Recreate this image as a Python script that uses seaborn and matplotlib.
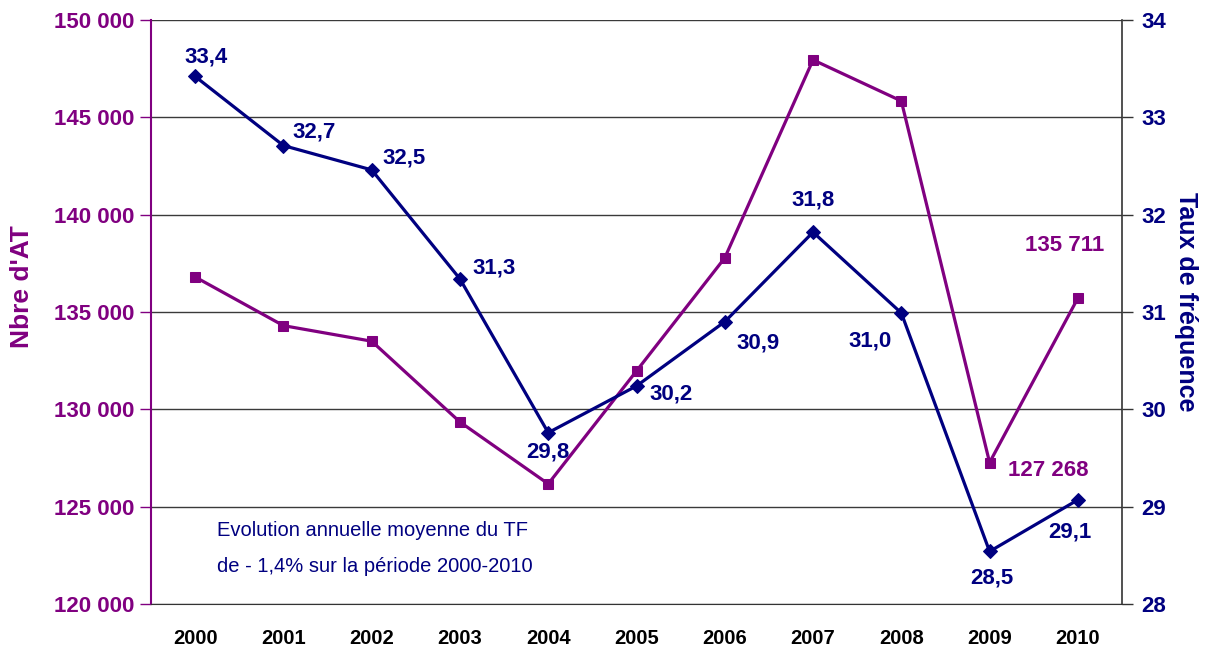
import matplotlib
matplotlib.use("Agg")
import matplotlib.pyplot as plt
import seaborn as sns
import pandas as pd
import numpy as np
from matplotlib.ticker import FixedLocator, FuncFormatter

# ---- data ----
years = ["2000", "2001", "2002", "2003", "2004", "2005", "2006", "2007", "2008", "2009", "2010"]
nb_at = [136800, 134300, 133500, 129350, 126170, 131970, 137780, 147950, 145840, 127268, 135711]
taux = [33.42, 32.71, 32.46, 31.34, 29.76, 30.24, 30.9, 31.82, 30.99, 28.54, 29.07]
left_ticks = [120000, 125000, 130000, 135000, 140000, 145000, 150000]
right_ticks = [28, 29, 30, 31, 32, 33, 34]
note_lines = ["Evolution annuelle moyenne du TF", "de - 1,4% sur la période 2000-2010"]

# ---- styles / positions ----
PURPLE = "#800080"
NAVY = "#000080"
taux_label_offsets = [(11, 19), (31, 14), (32, 12), (34, 11), (0, -19), (35, -8),
                      (33, -21), (0, 32), (-31, -28), (2, -27), (-8, -32)]
at_labeled = {9: (59, -8), 10: (-13, 53)}

sns.set_style("white")
plt.rcParams["font.family"] = ["Liberation Sans", "DejaVu Sans"]

df = pd.DataFrame({"pos": np.arange(len(years)), "year": years, "nb_at": nb_at, "taux": taux})

fig = plt.figure(figsize=(12.05, 6.52), dpi=100)
ax = fig.add_axes([151 / 1205, 48 / 652, 971 / 1205, 584 / 652])
ax2 = ax.twinx()

sns.lineplot(data=df, x="pos", y="nb_at", ax=ax, color=PURPLE, linewidth=2.3,
             marker="s", markersize=7, markeredgecolor=PURPLE, markerfacecolor=PURPLE, zorder=3)
sns.lineplot(data=df, x="pos", y="taux", ax=ax2, color=NAVY, linewidth=2.3,
             marker="D", markersize=7, markeredgecolor=NAVY, markerfacecolor=NAVY, zorder=3)

ax.set_xlim(-0.5, len(years) - 0.5)
ax.set_ylim(left_ticks[0], left_ticks[-1])
ax2.set_ylim(right_ticks[0], right_ticks[-1])

# x axis
ax.xaxis.set_major_locator(FixedLocator(df["pos"]))
ax.set_xticklabels(years, fontsize=14.5, fontweight="bold", color="black")
ax.xaxis.set_minor_locator(FixedLocator(np.arange(-0.5, len(years), 1.0)))
ax.tick_params(axis="x", which="major", length=0, pad=18)
ax.tick_params(axis="x", which="minor", length=7, width=1, color="#333333", direction="out")
ax.set_xlabel("")

# left y
ax.yaxis.set_major_locator(FixedLocator(left_ticks))
ax.yaxis.set_major_formatter(FuncFormatter(lambda v, p: f"{int(v):,}".replace(",", " ")))
ax.tick_params(axis="y", length=8, width=1, color=PURPLE, labelcolor=PURPLE, labelsize=16, pad=4)
for t in ax.get_yticklabels():
    t.set_fontweight("bold")
ax.set_ylabel("")

# right y
ax2.yaxis.set_major_locator(FixedLocator(right_ticks))
ax2.tick_params(axis="y", length=8, width=1, color="#333333", labelcolor=NAVY, labelsize=16, pad=6)
for t in ax2.get_yticklabels():
    t.set_fontweight("bold")
ax2.set_ylabel("")

# grid
ax.grid(False)
ax2.grid(False)
for v in left_ticks:
    ax.axhline(v, color="#3a3a3a", linewidth=1, zorder=0)

# spines
for a in (ax, ax2):
    a.spines["top"].set_visible(False)
ax.spines["left"].set_color(PURPLE)
ax.spines["left"].set_linewidth(1.5)
ax.spines["bottom"].set_color("#333333")
ax.spines["right"].set_visible(False)
ax2.spines["left"].set_visible(False)
ax2.spines["bottom"].set_visible(False)
ax2.spines["right"].set_color("#333333")
ax2.spines["right"].set_linewidth(1.2)

# data labels
for i, (v, off) in enumerate(zip(taux, taux_label_offsets)):
    ax2.annotate(f"{v:.1f}".replace(".", ","), (i, v), xytext=off, textcoords="offset pixels",
                 ha="center", va="center", fontsize=16, fontweight="bold", color=NAVY, zorder=5)
for i, off in at_labeled.items():
    ax.annotate(f"{nb_at[i]:,}".replace(",", " "), (i, nb_at[i]), xytext=off, textcoords="offset pixels",
                ha="center", va="center", fontsize=16, fontweight="bold", color=PURPLE, zorder=5)

# note
ax.text(0.068, (652 - 531 - 48) / 584, note_lines[0], transform=ax.transAxes, ha="left", va="center",
        fontsize=14.5, color=NAVY)
ax.text(0.068, (652 - 566 - 48) / 584, note_lines[1], transform=ax.transAxes, ha="left", va="center",
        fontsize=14.5, color=NAVY)

# axis titles
fig.text(22 / 1205, 1 - 287 / 652, "Nbre d'AT", rotation=90, ha="center", va="center",
         fontsize=19, fontweight="bold", color=PURPLE)
fig.text(1186 / 1205, 1 - 302 / 652, "Taux de fréquence", rotation=-90, ha="center", va="center",
         fontsize=18, fontweight="bold", color=NAVY)

fig.savefig("out.png", dpi=100)
